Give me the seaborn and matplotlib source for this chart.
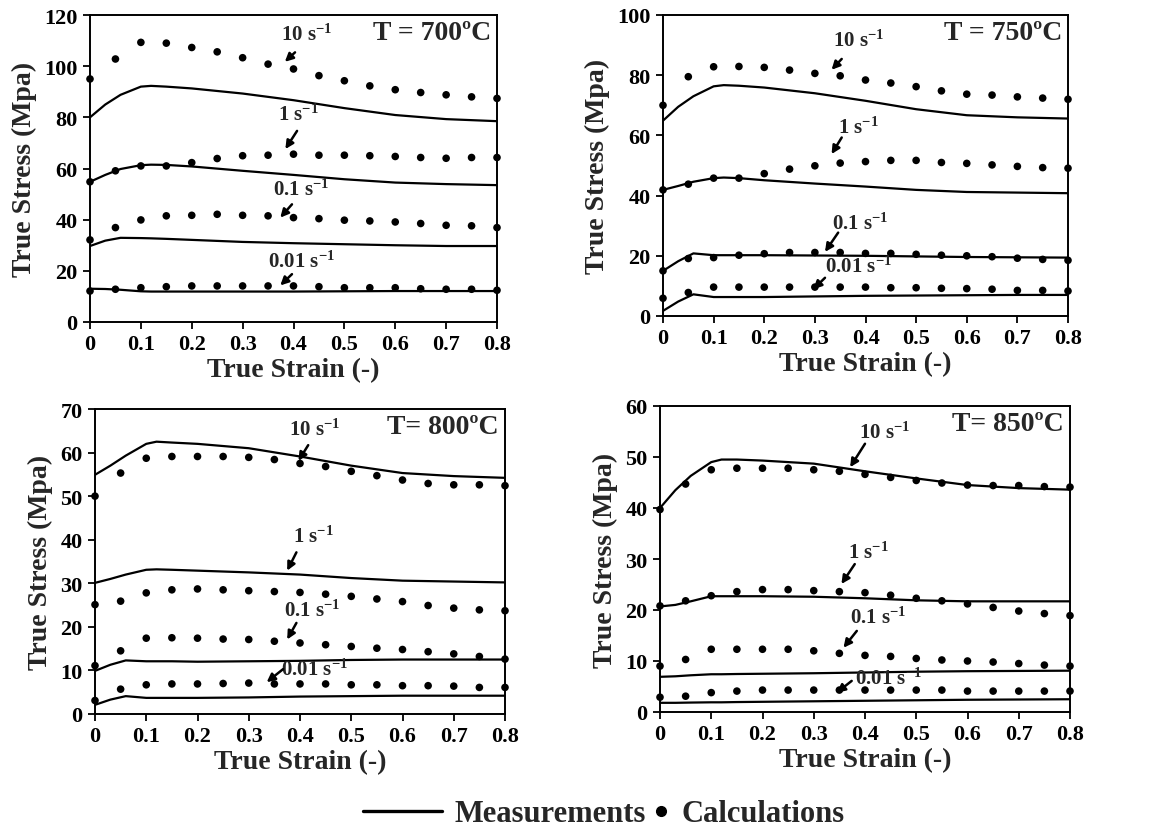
import matplotlib
matplotlib.use("Agg")
import matplotlib.pyplot as plt
import numpy as np
import pandas as pd
import seaborn as sns
from matplotlib.lines import Line2D

# ---------------- data ----------------
RATE_NAMES = ["10", "1", "0.1", "0.01"]
TEMPS = ["700", "750", "800", "850"]
TITLES = ["T = 700ºC", "T = 750ºC", "T= 800ºC", "T= 850ºC"]
Y_MAX = [120, 100, 70, 60]
Y_STEP = [20, 20, 10, 10]
X_TICKS = [0, 0.1, 0.2, 0.3, 0.4, 0.5, 0.6, 0.7, 0.8]
X_TICK_LABELS = ["0", "0.1", "0.2", "0.3", "0.4", "0.5", "0.6", "0.7", "0.8"]

MEAS_STRAIN = [0, 0.03, 0.06, 0.1, 0.12, 0.15, 0.2, 0.3, 0.4, 0.5, 0.6, 0.7, 0.8]
CALC_STRAIN = [0, 0.05, 0.1, 0.15, 0.2, 0.25, 0.3, 0.35, 0.4, 0.45, 0.5,
               0.55, 0.6, 0.65, 0.7, 0.75, 0.8]

# Measurements (solid lines), per temperature, per strain rate 10,1,0.1,0.01
meas_700_10 = [80, 85, 88.8, 92, 92.3, 92, 91.3, 89.3, 86.7, 83.6, 80.9, 79.3, 78.5]
meas_700_1 = [54.8, 57.5, 59.8, 61.3, 61.5, 61.4, 60.8, 59.1, 57.5, 55.8, 54.5, 53.9, 53.5]
meas_700_01 = [29.7, 31.8, 32.9, 32.8, 32.7, 32.5, 32.1, 31.3, 30.8, 30.4, 30.0, 29.7, 29.7]
meas_700_001 = [13.0, 12.9, 12.6, 12.0, 11.9, 11.9, 11.9, 11.9, 11.9, 12.0, 12.1, 12.1, 12.1]

meas_750_10 = [64.9, 69.5, 73.0, 76.3, 76.7, 76.5, 75.9, 74.0, 71.5, 68.7, 66.7, 66.0, 65.6]
meas_750_1 = [41.9, 43.2, 44.6, 45.8, 46.0, 45.8, 45.1, 44.0, 43.0, 41.9, 41.2, 41.0, 40.8]
meas_750_01 = [15.0, 18.2, 20.8, 20.2, 20.2, 20.2, 20.2, 20.1, 20.0, 19.8, 19.6, 19.5, 19.4]
meas_750_001 = [1.7, 4.8, 7.2, 6.3, 6.3, 6.3, 6.3, 6.5, 6.7, 6.8, 6.9, 7.0, 7.0]

meas_800_10 = [54.9, 57.0, 59.3, 62.0, 62.5, 62.3, 62.0, 61.0, 59.1, 57.0, 55.3, 54.6, 54.2]
meas_800_1 = [30.1, 31.0, 32.0, 33.1, 33.2, 33.1, 32.9, 32.5, 32.0, 31.2, 30.6, 30.4, 30.2]
meas_800_01 = [9.9, 11.3, 12.3, 12.1, 12.1, 12.1, 12.0, 12.1, 12.2, 12.4, 12.5, 12.5, 12.5]
meas_800_001 = [2.1, 3.3, 4.1, 3.7, 3.7, 3.7, 3.7, 3.8, 4.0, 4.1, 4.2, 4.2, 4.2]

meas_850_10 = [40.0, 43.5, 46.3, 49.0, 49.5, 49.5, 49.3, 48.7, 47.2, 45.8, 44.5, 43.9, 43.6]
meas_850_1 = [20.7, 21.0, 21.7, 22.7, 22.7, 22.7, 22.7, 22.6, 22.3, 21.9, 21.7, 21.7, 21.7]
meas_850_01 = [6.9, 7.0, 7.2, 7.4, 7.4, 7.45, 7.5, 7.6, 7.75, 7.9, 8.0, 8.05, 8.1]
meas_850_001 = [1.8, 1.8, 1.85, 1.9, 1.9, 1.95, 2.0, 2.1, 2.2, 2.3, 2.4, 2.45, 2.5]

# Calculations (dots)
calc_700_10 = [95, 102.8, 109.3, 109, 107.3, 105.6, 103.3, 100.8, 98.9, 96.3, 94.3, 92.3, 90.8, 89.7, 88.8, 88, 87.4]
calc_700_1 = [54.8, 59.1, 61, 61, 62.3, 63.9, 65, 65.2, 65.6, 65.2, 65.2, 65, 64.7, 64.3, 64, 64.3, 64.3]
calc_700_01 = [32.1, 36.9, 39.9, 41.5, 41.7, 42.1, 41.7, 41.5, 40.8, 40.4, 39.8, 39.5, 39.1, 38.5, 37.8, 37.6, 36.9]
calc_700_001 = [12.1, 12.8, 13.4, 13.8, 14.1, 14.1, 14.1, 14.1, 14.1, 13.8, 13.4, 13.4, 13.4, 13, 12.8, 12.8, 12.4]

calc_750_10 = [70, 79.5, 82.8, 82.9, 82.6, 81.7, 80.6, 79.8, 78.4, 77.4, 76.2, 74.8, 73.7, 73.4, 72.8, 72.4, 72]
calc_750_1 = [41.9, 43.8, 45.8, 45.8, 47.3, 48.8, 49.9, 50.8, 51.3, 51.7, 51.7, 51, 50.7, 50.2, 49.7, 49.3, 49.1]
calc_750_01 = [15, 19.1, 19.4, 20.2, 20.7, 21.1, 21.1, 21.1, 20.8, 20.8, 20.5, 20.2, 20, 19.7, 19.2, 18.8, 18.5]
calc_750_001 = [5.9, 7.8, 9.6, 9.6, 9.6, 9.6, 9.6, 9.6, 9.6, 9.4, 9.4, 9.2, 9.1, 8.9, 8.5, 8.5, 8.3]

calc_800_10 = [50, 55.3, 58.7, 59.1, 59.1, 59.1, 58.9, 58.4, 57.5, 56.8, 55.7, 54.7, 53.7, 52.9, 52.6, 52.6, 52.4]
calc_800_1 = [25.1, 25.9, 27.8, 28.5, 28.7, 28.5, 28.3, 28.1, 27.9, 27.5, 27, 26.4, 25.8, 24.9, 24.3, 23.9, 23.7]
calc_800_01 = [11.1, 14.5, 17.4, 17.5, 17.4, 17.2, 17.1, 16.7, 16.3, 15.9, 15.5, 15.1, 14.8, 14.3, 13.8, 13.2, 12.6]
calc_800_001 = [3.1, 5.7, 6.7, 6.9, 6.9, 7, 7.1, 6.9, 6.9, 6.9, 6.7, 6.7, 6.5, 6.5, 6.4, 6.1, 6.1]

calc_850_10 = [39.7, 44.7, 47.5, 47.8, 47.8, 47.8, 47.5, 47.2, 46.6, 46, 45.4, 44.9, 44.5, 44.4, 44.4, 44.2, 44.1]
calc_850_1 = [20.8, 21.8, 22.8, 23.6, 24, 24, 23.8, 23.6, 23.4, 22.9, 22.3, 21.8, 21.2, 20.5, 19.8, 19.3, 18.9]
calc_850_01 = [9, 10.3, 12.3, 12.3, 12.3, 12.3, 12, 11.5, 11.1, 10.9, 10.5, 10.2, 10, 9.8, 9.5, 9.2, 9]
calc_850_001 = [2.9, 3.1, 3.8, 4.1, 4.3, 4.3, 4.3, 4.3, 4.3, 4.3, 4.3, 4.3, 4.1, 4.1, 4.1, 4.1, 4.1]

MEAS = {
    "700": [meas_700_10, meas_700_1, meas_700_01, meas_700_001],
    "750": [meas_750_10, meas_750_1, meas_750_01, meas_750_001],
    "800": [meas_800_10, meas_800_1, meas_800_01, meas_800_001],
    "850": [meas_850_10, meas_850_1, meas_850_01, meas_850_001],
}
CALC = {
    "700": [calc_700_10, calc_700_1, calc_700_01, calc_700_001],
    "750": [calc_750_10, calc_750_1, calc_750_01, calc_750_001],
    "800": [calc_800_10, calc_800_1, calc_800_01, calc_800_001],
    "850": [calc_850_10, calc_850_1, calc_850_01, calc_850_001],
}

# ---------------- layout (annotation placement, axes boxes) ----------------
# per panel, per rate: (text x, text y, arrow tail x, tail y, arrow tip x, tip y)
ANNOT = {
    "700": [(0.426, 112.6, 0.403, 105.4, 0.383, 101.7),
            (0.410, 81.3, 0.407, 74.7, 0.384, 67.6),
            (0.416, 51.9, 0.397, 46.0, 0.374, 40.8),
            (0.416, 23.9, 0.397, 18.7, 0.374, 14.3)],
    "750": [(0.386, 91.5, 0.353, 85.4, 0.333, 81.8),
            (0.386, 62.6, 0.353, 59.3, 0.333, 53.8),
            (0.390, 30.8, 0.346, 27.7, 0.320, 21.3),
            (0.386, 16.6, 0.320, 12.7, 0.297, 8.9)],
    "800": [(0.429, 65.4, 0.416, 61.7, 0.397, 58.1),
            (0.426, 40.9, 0.393, 37.1, 0.375, 32.9),
            (0.423, 23.9, 0.393, 20.9, 0.375, 17.1),
            (0.429, 10.3, 0.367, 10.3, 0.335, 7.3)],
    "850": [(0.439, 54.9, 0.400, 52.6, 0.371, 48.0),
            (0.407, 31.3, 0.380, 29.0, 0.354, 25.1),
            (0.426, 18.5, 0.384, 15.9, 0.358, 12.6),
            (0.446, 6.7, 0.374, 6.1, 0.345, 3.8)],
}
W, H = 1150, 829
BOXES_PX = [(90, 16, 497, 323), (663, 16, 1068, 317),
            (95, 410, 505, 715), (660, 407, 1070, 713)]

# ---------------- style ----------------
sns.set_theme(style="ticks")
plt.rcParams["font.family"] = ["Liberation Serif", "DejaVu Serif"]
plt.rcParams["font.weight"] = "bold"
plt.rcParams["axes.labelweight"] = "bold"
plt.rcParams["mathtext.default"] = "regular"

fig = plt.figure(figsize=(W / 100, H / 100), dpi=100)

for i, temp in enumerate(TEMPS):
    l, t, r, b = BOXES_PX[i]
    ax = fig.add_axes([l / W, 1 - b / H, (r - l) / W, (b - t) / H])

    mdf = pd.DataFrame({
        "strain": np.tile(MEAS_STRAIN, 4),
        "stress": np.concatenate(MEAS[temp]),
        "rate": np.repeat(RATE_NAMES, len(MEAS_STRAIN)),
    })
    cdf = pd.DataFrame({
        "strain": np.tile(CALC_STRAIN, 4),
        "stress": np.concatenate(CALC[temp]),
        "rate": np.repeat(RATE_NAMES, len(CALC_STRAIN)),
    })
    sns.lineplot(data=mdf, x="strain", y="stress", units="rate", estimator=None,
                 color="black", lw=1.6, sort=True, ax=ax)
    sns.scatterplot(data=cdf, x="strain", y="stress", color="black", s=30,
                    edgecolor="none", ax=ax, clip_on=False, zorder=3)

    ax.set_xlim(0, 0.8)
    ax.set_ylim(0, Y_MAX[i])
    ax.set_xticks(X_TICKS)
    ax.set_xticklabels(X_TICK_LABELS)
    ax.set_yticks(np.arange(0, Y_MAX[i] + 1, Y_STEP[i]))
    for lab in ax.get_xticklabels() + ax.get_yticklabels():
        lab.set_fontweight("bold")
    ax.tick_params(axis="both", direction="out", length=5, width=1.3,
                   labelsize=16, colors="black", pad=4)
    for sp in ax.spines.values():
        sp.set_visible(True)
        sp.set_color("black")
        sp.set_linewidth(1.4)
    ax.set_xlabel("True Strain (-)", fontsize=20, fontweight="bold", labelpad=2)
    ax.set_ylabel("True Stress (Mpa)", fontsize=20, fontweight="bold", labelpad=5)

    ax.text(0.985, 0.985, TITLES[i], transform=ax.transAxes, ha="right", va="top",
            fontsize=20, fontweight="bold")

    for k, rate in enumerate(RATE_NAMES):
        tx, ty, ax0, ay0, ax1, ay1 = ANNOT[temp][k]
        ax.text(tx, ty, rate + r" s$^{\mathregular{-1}}$", ha="center", va="center",
                fontsize=15, fontweight="bold")
        ax.annotate("", xy=(ax1, ay1), xytext=(ax0, ay0),
                    arrowprops=dict(arrowstyle="-|>", color="black", lw=1.8,
                                    mutation_scale=12, shrinkA=0, shrinkB=0))

# legend
h1 = Line2D([], [], color="black", lw=2.4)
h2 = Line2D([], [], color="black", lw=0, marker="o", markersize=7)
fig.legend([h1], ["Measurements"], loc="center right",
           bbox_to_anchor=(646 / W, 1 - 815 / H), frameon=False,
           handlelength=2.6, handletextpad=0.4, borderpad=0, borderaxespad=0,
           prop=dict(family="Liberation Serif", weight="bold", size=22))
fig.legend([h2], ["Calculations"], loc="center left",
           bbox_to_anchor=(652 / W, 1 - 815 / H), frameon=False,
           handlelength=0.6, handletextpad=0.35, borderpad=0, borderaxespad=0,
           prop=dict(family="Liberation Serif", weight="bold", size=22))

fig.savefig("out.png", dpi=100)
